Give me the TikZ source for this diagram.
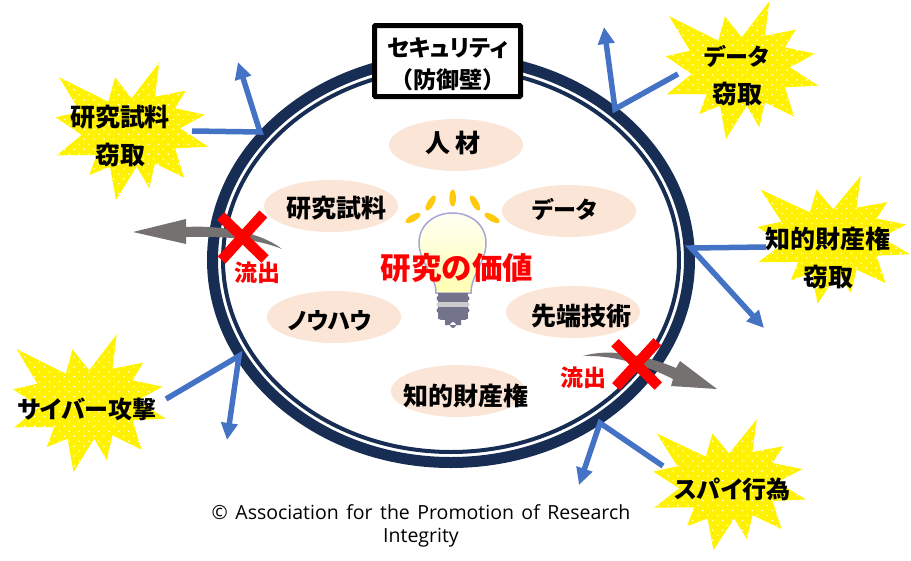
\documentclass[tikz,border=0pt]{standalone}
\usepackage{fontspec}
\usepackage{tikz}
\usetikzlibrary{shapes.geometric,arrows.meta,patterns.meta}
\setmainfont{Open Sans}
\newfontfamily\cjk[RawFeature=+palt]{Noto Sans CJK JP}
\newfontfamily\cjkfull{Noto Sans CJK JP}
\definecolor{ringblue}{HTML}{172D54}
\definecolor{arrowblue}{HTML}{4472C4}
\definecolor{peach}{HTML}{FBE5D6}
\definecolor{leakgray}{HTML}{767171}
\definecolor{raygold}{HTML}{FFC90E}
\newcommand{\BurstPath}{(-71,-53) -- (-21.7,-28.3) -- (-15,-52.7) -- (1.7,-31.7) -- (29.3,-67.7) -- (25,-33.3) -- (55.7,-39.3) -- (45,-21.7) -- (75,-15.3) -- (50,-1.7) -- (78.3,16.7) -- (45,18.3) -- (54,47.7) -- (25,33.3) -- (19.3,58.3) -- (6.7,36.7) -- (-14,70) -- (-20,36.7) -- (-40.7,45) -- (-33.3,25) -- (-73.3,25.3) -- (-48.3,5) -- (-74.3,-12.7) -- (-50,-18.3) -- cycle}
\newcommand{\SizeAt}[1]{\fontsize{#1}{38}\selectfont}
\begin{document}
\begin{tikzpicture}[x=1pt,y=-1pt]
  \useasboundingbox (0,0) rectangle (911,560);
  \tikzstyle{burst}=[fill=yellow,postaction={pattern={Dots[radius=0.9pt,distance=7pt,angle=45]},pattern color=white}]
  \tikzstyle{burstlabel}=[font=\cjk\bfseries\fontsize{25}{38}\selectfont,align=center,inner sep=0pt]
  \tikzstyle{bubble}=[ellipse,fill=peach,minimum width=134pt,minimum height=52pt,inner sep=0pt]
  \tikzstyle{bubblelabel}=[font=\cjk\bfseries\fontsize{25}{30}\selectfont,inner sep=0pt]
  \tikzstyle{attack}=[draw=arrowblue,line width=5.5pt,-{Triangle[length=17pt,width=16pt]}]
  \tikzstyle{leak}=[fill=leakgray]
  \tikzstyle{crossbar}=[draw=red,line width=10.5pt]
  \tikzstyle{leaklabel}=[text=red,font=\cjk\bfseries\fontsize{23}{25}\selectfont,inner sep=0pt]
  \tikzstyle{ray}=[fill=raygold]
  \tikzstyle{screw}=[draw=gray!90!blue,line width=5pt,line cap=round]

  \draw[ringblue,line width=11pt] (451,260) ellipse [x radius=238.5,y radius=202.5];
  \draw[ringblue,line width=4pt] (451,260) ellipse [x radius=228,y radius=192];

  \node[draw=black,line width=5pt,fill=white,rounded corners=1pt,minimum width=146pt,minimum height=71pt,inner sep=0pt] (wall) at (447.5,61) {};
  \node[align=center,inner sep=0pt,font=\bfseries\fontsize{23}{32}\selectfont] (walllabel) at (447.5,64.5) {{\cjk セキュリティ}\\{\cjkfull （防御壁）}};

  \fill[burst,shift={(130,130)}] \BurstPath;
  \fill[burst,shift={(740,69)}] \BurstPath;
  \fill[burst,shift={(831.5,238.7)},yscale=.93] \BurstPath;
  \fill[burst,shift={(87.5,402)}] \BurstPath;
  \fill[burst,shift={(727.5,483.6)},yscale=.95] \BurstPath;

  \node[burstlabel] (samplethreat) at (120,136) {研究試料\\窃取};
  \node[burstlabel] (datathreat) at (737,76) {{\SizeAt{23}データ}\\窃取};
  \node[burstlabel] (ipthreat) at (828,257.5) {知的財産権\\窃取};
  \node[burstlabel,font=\cjk\bfseries\fontsize{24}{30}\selectfont] (cyberthreat) at (87,409) {サイバー攻撃};
  \node[burstlabel,font=\cjk\bfseries\fontsize{24}{30}\selectfont] (spythreat) at (732.5,489) {スパイ行為};

  \coordinate (samplefrom) at (192,131);
  \coordinate (samplehit) at (260,132);
  \coordinate (sampleoff) at (238,62);
  \coordinate (datafrom) at (678,74);
  \coordinate (datahit) at (615,109);
  \coordinate (dataoff) at (604,27);
  \coordinate (ipfrom) at (766,247);
  \coordinate (iphit) at (691,248);
  \coordinate (ipoff) at (764,328);
  \coordinate (cyberfrom) at (166,399);
  \coordinate (cyberhit) at (239,356);
  \coordinate (cyberoff) at (227,440);
  \coordinate (spyfrom) at (663,466);
  \coordinate (spyhit) at (600,423);
  \coordinate (spyoff) at (579,485);
  \draw[attack] (samplefrom) -- (samplehit) -- (sampleoff);
  \draw[attack] (datafrom) -- (datahit) -- (dataoff);
  \draw[attack] (ipfrom) -- (iphit) -- (ipoff);
  \draw[attack] (cyberfrom) -- (cyberhit) -- (cyberoff);
  \draw[attack] (spyfrom) -- (spyhit) -- (spyoff);

  \node[bubble] (people) at (456,145) {};
  \node[bubble] (data) at (569,211) {};
  \node[bubble] (advanced) at (573,312) {};
  \node[bubble] (samples) at (331,206) {};
  \node[bubble] (knowhow) at (334,317) {};
  \node[bubble] (property) at (458,391) {};
  \node[bubblelabel] (peoplelabel) at (453,143) {人 材};
  \node[bubblelabel,font=\cjk\bfseries\fontsize{23}{30}\selectfont] (datalabel) at (565,209) {データ};
  \node[bubblelabel] (advancedlabel) at (581,316) {先端技術};
  \node[bubblelabel] (sampleslabel) at (336,208) {研究試料};
  \node[bubblelabel,font=\cjk\bfseries\fontsize{23}{30}\selectfont] (knowhowlabel) at (330,321) {ノウハウ};
  \node[bubblelabel] (propertylabel) at (466,396) {知的財産権};

  \fill[ray] (452.7,198) ellipse [x radius=3.3,y radius=8.5];
  \fill[ray,rotate around={-30:(430.7,203)}] (430.7,203) ellipse [x radius=3.3,y radius=8.5];
  \fill[ray,rotate around={30:(475,203)}] (475,203) ellipse [x radius=3.3,y radius=8.5];
  \fill[ray,rotate around={-60:(413,218)}] (413,218) ellipse [x radius=3.3,y radius=8.5];
  \fill[ray,rotate around={60:(492,218)}] (492,218) ellipse [x radius=3.3,y radius=8.5];
  \draw[draw=gray!60!blue!50,line width=1.5pt,top color=yellow!5,bottom color=yellow!30] (436,293) .. controls (436,275) and (419,262) .. (419,243) .. controls (419,225) and (434,213) .. (452.5,213) .. controls (471,213) and (486,225) .. (486,243) .. controls (486,262) and (471,275) .. (471,293) -- cycle;
  \fill[gray!90!blue] (438,293) rectangle (468,319);
  \draw[screw] (439,298) -- (467,298);
  \draw[screw,gray!40] (439,304) -- (467,304);
  \draw[screw] (439,310) -- (467,310);
  \draw[screw] (441,317) -- (465,317);
  \fill[gray!90!blue] (445,319) rectangle (461,325) (453,325) circle [radius=3];

  \node[text=red,font=\cjk\bfseries\fontsize{30.5}{36}\selectfont,inner sep=0pt] (value) at (457,268) {研究の価値};

  \fill[leak] (133,232) -- (186,219) -- (186,227) .. controls (220,225) and (260,232) .. (282,249) .. controls (255,238) and (220,236) .. (186,237) -- (186,244) -- cycle;
  \fill[leak] (583,356) .. controls (610,348) and (645,355) .. (676,368) -- (680,361) -- (717,389) -- (671,386) -- (673,379) .. controls (645,365) and (615,355) .. (583,356) -- cycle;

  \draw[crossbar] (220.7,216) -- (265,259);
  \draw[crossbar] (263.3,214) -- (221.7,260);
  \draw[crossbar] (615,342.7) -- (658.3,386);
  \draw[crossbar] (657.3,341.7) -- (616,386.7);

  \node[leaklabel] (leakleft) at (257,273) {流出};
  \node[leaklabel] (leakright) at (583,378) {流出};

  \node[align=center,inner sep=0pt,font=\fontsize{19.5}{23}\selectfont] (credit) at (421,526) {\spaceskip=7.5pt © Association for the Promotion of Research\\Integrity};
\end{tikzpicture}
\end{document}
